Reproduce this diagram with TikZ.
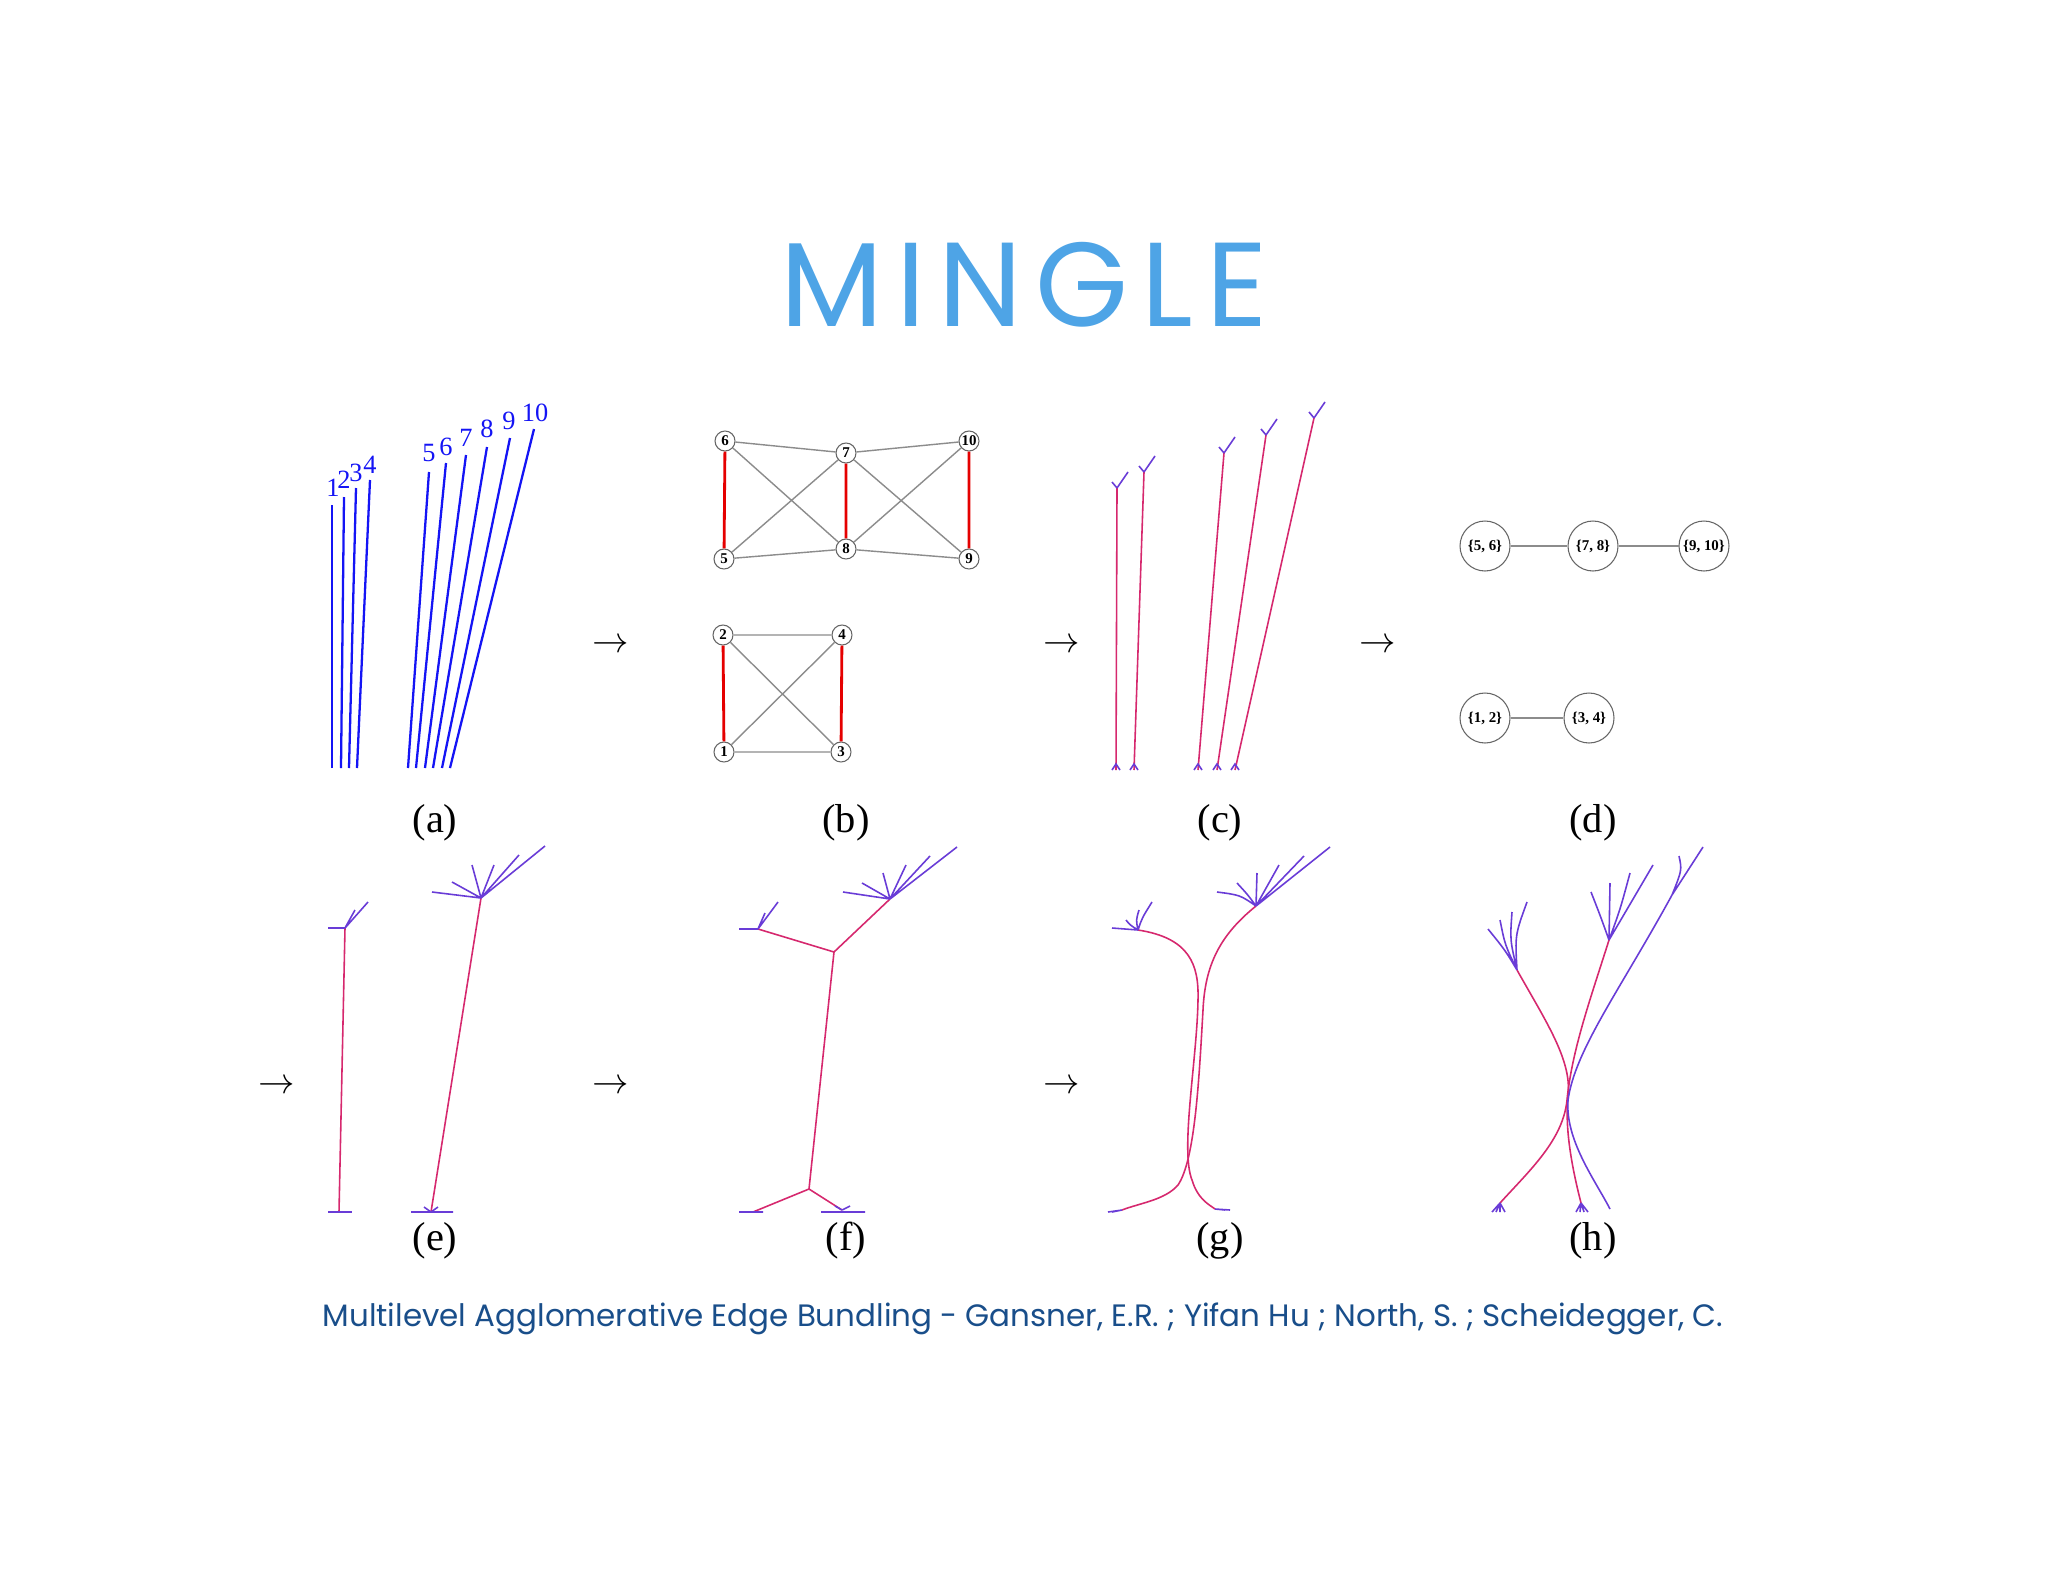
\documentclass[tikz,border=0pt]{standalone}
\usepackage{fontspec}
\setmainfont{Liberation Serif}
\newfontfamily\titlefont{Poppins}
\newfontfamily\titlefontsp[LetterSpace=11]{Poppins}
\definecolor{titleblue}{RGB}{78,164,230}
\definecolor{capblue}{RGB}{25,78,138}
\definecolor{ablue}{RGB}{20,20,245}
\definecolor{stem}{RGB}{214,40,110}
\definecolor{fan}{RGB}{105,60,215}
\definecolor{gedge}{RGB}{140,140,140}
\begin{document}
\begin{tikzpicture}[x=0.02cm,y=-0.02cm,
  bnode/.style={circle,draw=gray!80!black,fill=white,line width=0.6pt,inner sep=0pt,minimum size=0.4cm,font=\bfseries\fontsize{8.5}{9}\selectfont},
  dnode/.style={circle,draw=gray!80!black,fill=white,line width=0.6pt,inner sep=0pt,minimum size=1cm,font=\bfseries\fontsize{8.5}{9}\selectfont},
  gray edge/.style={draw=gedge,line width=0.8pt},
  red edge/.style={draw=red!90!black,line width=1.6pt},
  aline/.style={draw=ablue,line width=1.3pt},
  alabel/.style={text=ablue,font=\fontsize{15}{16}\selectfont,inner sep=0pt},
  stemline/.style={draw=stem,line width=0.9pt},
  fanline/.style={draw=fan,line width=0.9pt},
  plabel/.style={font=\fontsize{23}{25}\selectfont},
  arr/.style={font=\fontsize{20}{22}\selectfont}]
\useasboundingbox (0,0) rectangle (2048,1582);
\fill[white] (0,0) rectangle (2048,1582);

% title and caption
\node[text=titleblue,font=\titlefontsp\fontsize{68}{70}\selectfont] (title) at (1024,285) {MINGLE};
\node[text=capblue,font=\titlefont\fontsize{17.6}{20}\selectfont] (caption) at (1023,1319) {Multilevel Agglomerative Edge Bundling - Gansner, E.R. ; Yifan Hu ; North, S. ; Scheidegger, C.};

% panel labels
\node[plabel] (la) at (435,823) {(a)};
\node[plabel] (lb) at (846,823) {(b)};
\node[plabel] (lc) at (1220,823) {(c)};
\node[plabel] (ld) at (1593,823) {(d)};
\node[plabel] (le) at (435,1241) {(e)};
\node[plabel] (lf) at (846,1241) {(f)};
\node[plabel] (lg) at (1220,1241) {(g)};
\node[plabel] (lh) at (1593,1241) {(h)};

% arrows
\node[arr] (r1) at (611,646) {$\rightarrow$};
\node[arr] (r2) at (1062,646) {$\rightarrow$};
\node[arr] (r3) at (1378,646) {$\rightarrow$};
\node[arr] (r4) at (277,1087) {$\rightarrow$};
\node[arr] (r5) at (611,1087) {$\rightarrow$};
\node[arr] (r6) at (1062,1087) {$\rightarrow$};

% panel (a)
\foreach \bx/\tx/\ty/\lab/\lx/\ly in {332/332/505/1/333/488, 341/344/497/2/344/480, 349/356/488/3/356/473, 357/370/480/4/370/465,
  408/429/472/5/429/453, 416/446/463/6/446/447, 425/466/455/7/466/438, 433/487/447/8/487/429, 442/510/438/9/509/421, 450/534/429/10/535/413}{
  \draw[aline] (\bx,768) -- (\tx,\ty);
  \node[alabel] at (\lx,\ly) {\lab};
}

% panel (b)
\node[bnode] (n6) at (725,441) {6};
\node[bnode] (n7) at (846,453) {7};
\node[bnode] (n10) at (969,441) {10};
\node[bnode] (n5) at (724,559) {5};
\node[bnode] (n8) at (846,549) {8};
\node[bnode] (n9) at (969,559) {9};
\node[bnode] (n2) at (723,635) {2};
\node[bnode] (n4) at (842,635) {4};
\node[bnode] (n1) at (724,752) {1};
\node[bnode] (n3) at (841,752) {3};
\path[gray edge] (n6)--(n7) (n7)--(n10) (n5)--(n8) (n8)--(n9) (n6)--(n8) (n5)--(n7) (n7)--(n9) (n8)--(n10)
  (n2)--(n4) (n1)--(n3) (n2)--(n3) (n1)--(n4);
\path[red edge] (n6)--(n5) (n7)--(n8) (n10)--(n9) (n2)--(n1) (n4)--(n3);

% panel (c)
\foreach \bx/\tx/\ty in {1116/1117/488, 1134/1144/472, 1198/1224/453, 1217/1266/435, 1235/1314/418}{
  \draw[stemline] (\bx,770) -- (\tx,\ty);
  \draw[fanline] (\tx,\ty) -- ++(-5,-6) (\tx,\ty) -- ++(11,-16);
  \draw[fanline] (\bx-4,770) -- (\bx,764) -- (\bx+4,770);
}

% panel (d)
\node[dnode] (d56) at (1485,546) {\{5, 6\}};
\node[dnode] (d78) at (1593,546) {\{7, 8\}};
\node[dnode] (d910) at (1704,546) {\{9, 10\}};
\node[dnode] (d12) at (1485,718) {\{1, 2\}};
\node[dnode] (d34) at (1589,718) {\{3, 4\}};
\draw[gray edge] (d56)--(d78) (d78)--(d910) (d12)--(d34);

% panel (e)
\draw[stemline] (339,1212) -- (345,928);
\draw[fanline] (345,928) -- (328,928) (345,928) -- (368,902) (345,928) -- (355,910);
\draw[fanline] (328,1212) -- (352,1212);
\draw[stemline] (431,1212) -- (481,898);
\draw[fanline] (481,898) -- (432,892) (481,898) -- (452,882) (481,898) -- (472,865) (481,898) -- (494,865) (481,898) -- (519,855) (481,898) -- (545,846);
\draw[fanline] (411,1212) -- (453,1212) (431,1212) -- (424,1207) (431,1212) -- (438,1207);

% panel (f)
\draw[stemline] (809,1189) -- (834,952);
\draw[stemline] (834,952) -- (758,929) (834,952) -- (890,899);
\draw[stemline] (809,1189) -- (753,1212) (809,1189) -- (842,1210);
\draw[fanline] (758,929) -- (739,929) (758,929) -- (778,902) (758,929) -- (765,913);
\draw[fanline] (890,899) -- (843,892) (890,899) -- (862,883) (890,899) -- (883,873) (890,899) -- (906,865) (890,899) -- (930,856) (890,899) -- (957,847);
\draw[fanline] (739,1212) -- (763,1212) (821,1212) -- (865,1212) (842,1210) -- (835,1206) (842,1210) -- (850,1206);

% panel (g)
\draw[stemline] (1138,930) .. controls (1190,938) and (1199,965) .. (1198,1000)
  .. controls (1197,1060) and (1180,1150) .. (1192,1180) .. controls (1198,1200) and (1210,1205) .. (1215,1209);
\draw[stemline] (1256,906) .. controls (1220,935) and (1205,965) .. (1203,1010)
  .. controls (1199,1080) and (1195,1160) .. (1178,1185) .. controls (1165,1200) and (1140,1203) .. (1122,1210);
\draw[fanline] (1138,930) -- (1112,928) (1138,930) .. controls (1130,925) .. (1126,920) (1138,930) .. controls (1136,920) .. (1139,910) (1138,930) .. controls (1142,918) .. (1152,902);
\draw[fanline] (1256,906) .. controls (1240,895) .. (1217,892) (1256,906) .. controls (1248,895) .. (1237,883)
  (1256,906) .. controls (1256,890) .. (1257,873) (1256,906) .. controls (1268,885) .. (1279,865)
  (1256,906) -- (1304,856) (1256,906) -- (1330,847);
\draw[fanline] (1122,1210) -- (1108,1212) (1122,1210) -- (1112,1212) (1215,1209) -- (1230,1210) (1215,1209) -- (1225,1210);

% panel (h)
\draw[stemline] (1517,970) .. controls (1545,1020) and (1572,1060) .. (1568,1095)
  .. controls (1565,1125) and (1570,1160) .. (1581,1203);
\draw[stemline] (1609,940) .. controls (1590,1000) and (1572,1050) .. (1567,1100)
  .. controls (1563,1140) and (1530,1170) .. (1500,1203);
\draw[fanline] (1672,895) .. controls (1620,990) and (1575,1050) .. (1568,1100)
  .. controls (1565,1140) and (1595,1180) .. (1610,1209);
\draw[fanline] (1517,970) .. controls (1505,950) .. (1488,929) (1517,970) .. controls (1505,945) .. (1500,920)
  (1517,970) .. controls (1510,940) .. (1512,912) (1517,970) .. controls (1515,935) .. (1527,902);
\draw[fanline] (1609,940) .. controls (1600,915) .. (1591,892) (1609,940) -- (1610,883)
  (1609,940) .. controls (1620,910) .. (1630,873) (1609,940) -- (1653,865);
\draw[fanline] (1672,895) -- (1703,847) (1672,895) .. controls (1682,870) .. (1679,856);
\draw[fanline] (1500,1203) -- (1492,1212) (1500,1203) -- (1496,1212) (1500,1203) -- (1500,1212) (1500,1203) -- (1505,1212);
\draw[fanline] (1581,1203) -- (1576,1212) (1581,1203) -- (1580,1212) (1581,1203) -- (1584,1212) (1581,1203) -- (1588,1212);
\end{tikzpicture}
\end{document}
